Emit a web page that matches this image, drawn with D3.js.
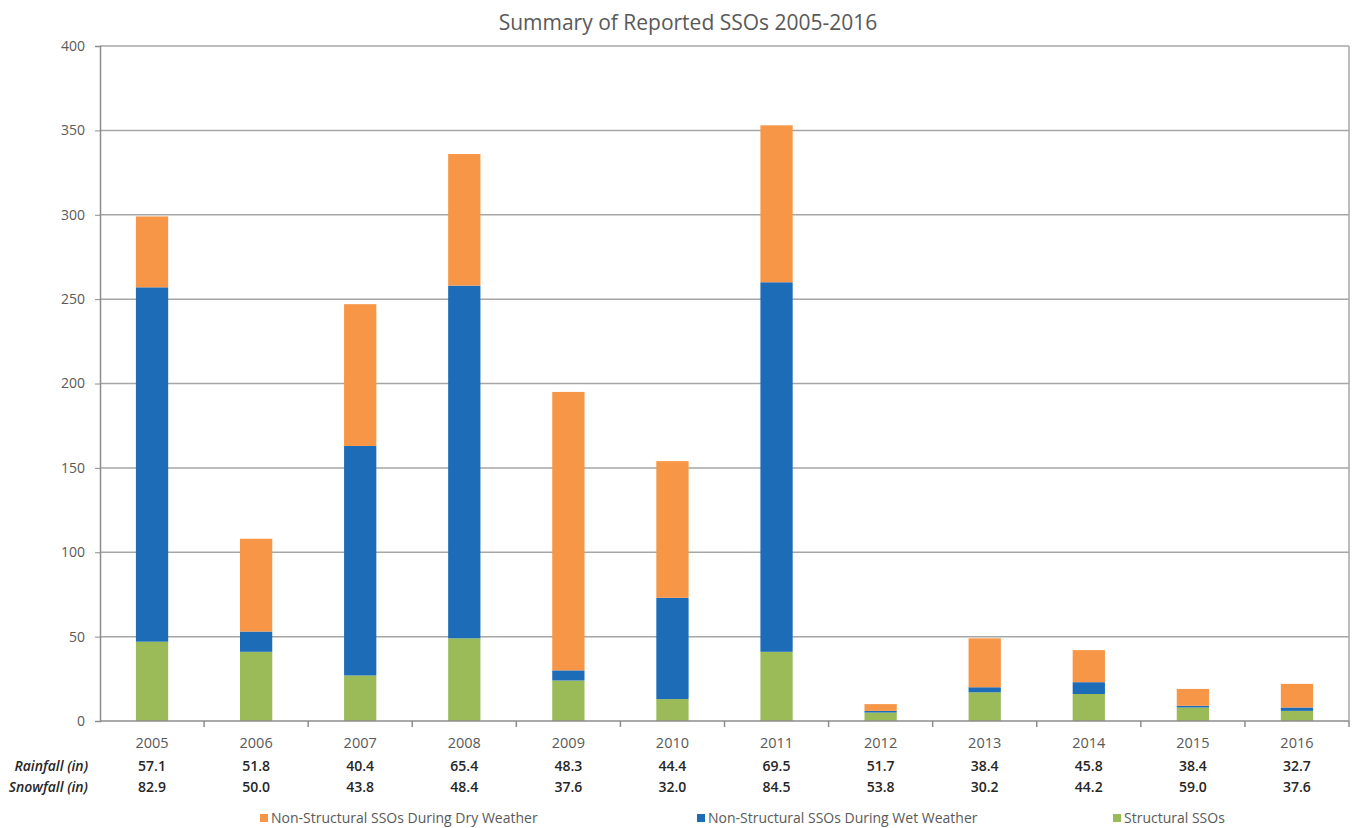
<!DOCTYPE html>
<html>
<head>
<meta charset="utf-8">
<script src="https://cdn.jsdelivr.net/npm/d3@7"></script>
<style>
  body { margin: 0; background: #fff; }
  text { font-family: "Open Sans", "Liberation Sans", sans-serif; }
</style>
</head>
<body>
<svg width="1354" height="828"></svg>
<script>
const years = ["2005", "2006", "2007", "2008", "2009", "2010", "2011", "2012", "2013", "2014", "2015", "2016"];
const structural = [47, 41, 27, 49, 24, 13, 41, 5, 17, 16, 8, 6];
const wetWeather = [210, 12, 136, 209, 6, 60, 219, 1, 3, 7, 1, 2];
const dryWeather = [42, 55, 84, 78, 165, 81, 93, 4, 29, 19, 10, 14];
const rainfall = ["57.1", "51.8", "40.4", "65.4", "48.3", "44.4", "69.5", "51.7", "38.4", "45.8", "38.4", "32.7"];
const snowfall = ["82.9", "50.0", "43.8", "48.4", "37.6", "32.0", "84.5", "53.8", "30.2", "44.2", "59.0", "37.6"];
const yTicks = [0, 50, 100, 150, 200, 250, 300, 350, 400];

const seriesKeys = ["structural", "wet", "dry"];
const seriesNames = {
  dry: "Non-Structural SSOs During Dry Weather",
  wet: "Non-Structural SSOs During Wet Weather",
  structural: "Structural SSOs"
};
const colors = { structural: "#9bbb59", wet: "#1c6cb8", dry: "#f79646" };

const table = years.map((yr, i) => ({
  year: yr,
  structural: structural[i],
  wet: wetWeather[i],
  dry: dryWeather[i]
}));

const svg = d3.select("svg");
const plotLeft = 100, plotRight = 1349, plotTop = 46, plotBottom = 721;

const x = d3.scaleBand().domain(years).range([plotLeft, plotRight]).paddingInner(0.69).paddingOuter(0.345);
const xb = d3.scaleBand().domain(years).range([plotLeft, plotRight]);
const y = d3.scaleLinear().domain([0, 400]).range([plotBottom, plotTop]);

// title
svg.append("text")
  .attr("x", 688).attr("y", 30)
  .attr("text-anchor", "middle")
  .attr("font-size", 21)
  .attr("fill", "#595959")
  .text("Summary of Reported SSOs 2005-2016");

// gridlines
svg.append("g")
  .selectAll("line")
  .data(yTicks.filter(d => d > 0))
  .join("line")
  .attr("x1", plotLeft).attr("x2", plotRight)
  .attr("y1", d => y(d)).attr("y2", d => y(d))
  .attr("stroke", "#a6a6a6").attr("stroke-width", 1.5);

// right border
svg.append("line")
  .attr("x1", plotRight).attr("x2", plotRight)
  .attr("y1", plotTop).attr("y2", plotBottom)
  .attr("stroke", "#a6a6a6").attr("stroke-width", 1.5);

// y axis
const yAxis = svg.append("g")
  .attr("transform", `translate(${plotLeft},0)`)
  .call(d3.axisLeft(y).tickValues(yTicks).tickSize(5).tickPadding(10));
yAxis.select(".domain").attr("stroke", "#8c8c8c").attr("stroke-width", 1.5);
yAxis.selectAll(".tick line").attr("stroke", "#8c8c8c");
yAxis.selectAll(".tick text")
  .attr("font-family", "Open Sans, sans-serif")
  .attr("font-size", 14).attr("fill", "#595959");

// stacked bars
const stack = d3.stack().keys(seriesKeys)(table);
svg.append("g")
  .selectAll("g")
  .data(stack)
  .join("g")
  .attr("fill", d => colors[d.key])
  .selectAll("rect")
  .data(d => d)
  .join("rect")
  .attr("x", d => x(d.data.year))
  .attr("width", x.bandwidth())
  .attr("y", d => y(d[1]))
  .attr("height", d => y(d[0]) - y(d[1]));

// x axis with ticks at category boundaries
const xAxis = svg.append("g").attr("transform", `translate(0,${plotBottom})`);
xAxis.append("line")
  .attr("x1", plotLeft).attr("x2", plotRight)
  .attr("stroke", "#8c8c8c").attr("stroke-width", 1.5);
xAxis.selectAll("line.tk")
  .data(years.slice(1).concat(["end"]))
  .join("line")
  .attr("class", "tk")
  .attr("x1", d => d === "end" ? plotRight : xb(d))
  .attr("x2", d => d === "end" ? plotRight : xb(d))
  .attr("y1", 0).attr("y2", 6)
  .attr("stroke", "#8c8c8c").attr("stroke-width", 1.5);

const center = d => xb(d) + xb.bandwidth() / 2;

svg.append("g")
  .selectAll("text")
  .data(years)
  .join("text")
  .attr("x", center).attr("y", 748)
  .attr("text-anchor", "middle")
  .attr("font-size", 14.5).attr("fill", "#595959")
  .text(d => d);

// data table rows
const rows = [
  { label: "Rainfall (in)", values: rainfall, y: 771 },
  { label: "Snowfall (in)", values: snowfall, y: 792 }
];
rows.forEach(r => {
  svg.append("text")
    .attr("x", 88).attr("y", r.y)
    .attr("text-anchor", "end")
    .attr("font-size", 14)
    .attr("font-style", "italic")
    .attr("font-weight", 600)
    .attr("fill", "#262626")
    .text(r.label);
  svg.append("g")
    .selectAll("text")
    .data(r.values)
    .join("text")
    .attr("x", (d, i) => center(years[i]))
    .attr("y", r.y)
    .attr("text-anchor", "middle")
    .attr("font-size", 14)
    .attr("font-weight", 600)
    .attr("fill", "#262626")
    .text(d => d);
});

// legend
const legendItems = [
  { key: "dry", x: 260 },
  { key: "wet", x: 697 },
  { key: "structural", x: 1113 }
];
const legend = svg.append("g")
  .selectAll("g")
  .data(legendItems)
  .join("g")
  .attr("transform", d => `translate(${d.x},818)`);
legend.append("rect")
  .attr("x", 0).attr("y", -4)
  .attr("width", 8).attr("height", 8)
  .attr("fill", d => colors[d.key]);
legend.append("text")
  .attr("x", 11).attr("y", 5)
  .attr("font-size", 14).attr("fill", "#595959")
  .text(d => seriesNames[d.key]);
</script>
</body>
</html>
